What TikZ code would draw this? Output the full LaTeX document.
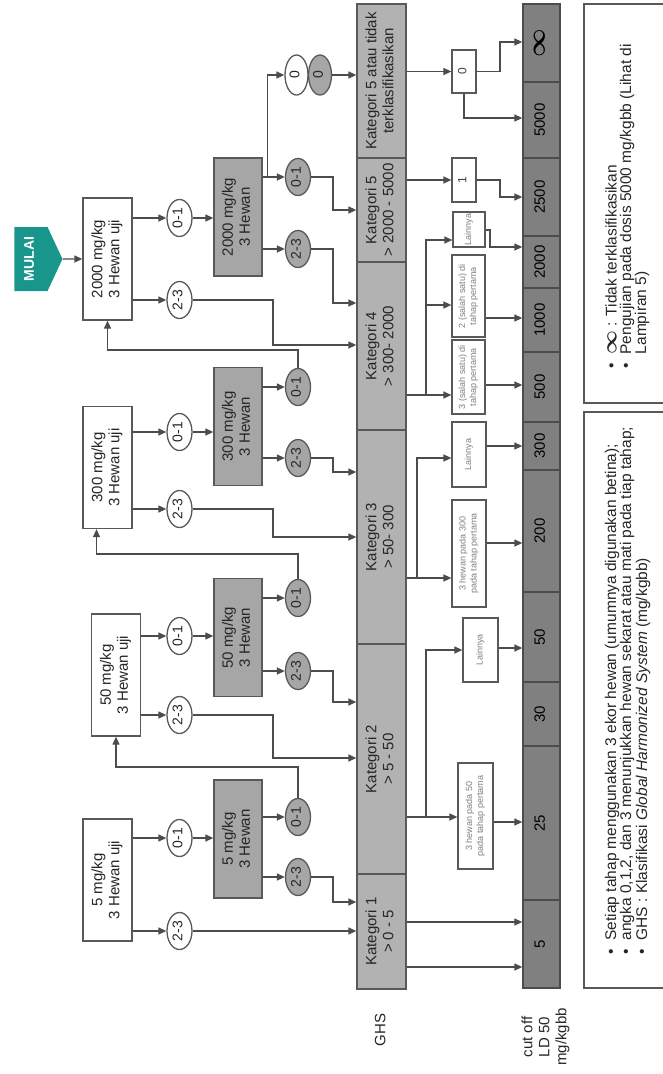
\documentclass[tikz,border=0pt]{standalone}
\usepackage{fontspec}
\setmainfont{Liberation Sans}
\usepackage{bm}
\usepackage{graphicx}
\usetikzlibrary{arrows.meta,shapes.geometric,shapes.symbols}

\definecolor{tosca}{RGB}{24,150,140}
\newcommand\rot[1]{\rotatebox{90}{\begin{tabular}{@{}c@{}}#1\end{tabular}}}
\newcommand\tandainf[1]{{\fontsize{#1}{#1}\selectfont$\bm{\infty}$}}

\begin{document}
\begin{tikzpicture}[x=1pt, y=-1pt, font=\fontsize{15}{17}\selectfont,
  every node/.style={text=black!85},
  arr/.style={draw=black!70, line width=1.3pt, -{Triangle[length=8pt,width=7pt]}},
  dosis/.style={draw=black!65, line width=1.3pt, fill=white, inner sep=0pt, minimum width=49pt, minimum height=122pt},
  uji/.style={dosis, fill=black!35, minimum width=48pt, minimum height=118pt},
  hasil/.style={ellipse, draw=black!65, line width=1.3pt, fill=white, inner sep=0pt, minimum width=25pt, minimum height=37pt, font=\fontsize{14}{14}\selectfont},
  hasilg/.style={hasil, fill=black!35},
  ghs/.style={draw=black!65, line width=1.3pt, fill=black!30, inner sep=0pt, minimum width=49pt},
  ld/.style={draw=black!70, line width=1.3pt, fill=black!50, inner sep=0pt, minimum width=37pt, text=black},
  kotak/.style={draw=black!65, line width=1.2pt, fill=white, inner sep=0pt, font=\fontsize{9}{11}\selectfont, text=black!50},
  ket/.style={inner sep=0pt, anchor=south, font=\fontsize{15.5}{15.5}\selectfont}]
  \useasboundingbox (0,0) rectangle (662,1074);
  \def\sa{333}
  \def\sb{273}

  \node[signal, signal to=east, signal pointer angle=130, fill=tosca, inner sep=0pt, minimum width=48pt, minimum height=64pt,
    text=white, font=\bfseries\fontsize{14}{14}\selectfont] (mulai) at (31,259) {\rot{MULAI}};

  \foreach \nm/\px/\py/\qy/\pa/\pb/\qa/\qb in {
    2000/107.5/259/217/218/300/177/249, 300/107.5/467.5/426.5/432/509/387/458,
    50/116/675/637.5/636/715/598/671, 5/107.5/880/839/838/931/817/877}
  {
    \node[dosis] (p\nm) at (\px,\py) {\rot{\nm{} mg/kg\\3 Hewan uji}};
    \node[uji] (q\nm) at (238,\qy) {\rot{\nm{} mg/kg\\3 Hewan}};
    \node[hasil] (p\nm-a) at (179.5,\pa) {\rot{0-1}};
    \node[hasil] (p\nm-b) at (179.5,\pb) {\rot{2-3}};
    \node[hasilg] (q\nm-a) at (298,\qa) {\rot{0-1}};
    \node[hasilg] (q\nm-b) at (298,\qb) {\rot{2-3}};
    \draw[arr] (p\nm.east |- p\nm-a) -- (p\nm-a);
    \draw[arr] (p\nm.east |- p\nm-b) -- (p\nm-b);
    \draw[arr] (p\nm-a) -- (q\nm.west |- p\nm-a);
    \draw[arr] (q\nm.east |- q\nm-a) -- (q\nm-a);
    \draw[arr] (q\nm.east |- q\nm-b) -- (q\nm-b);
  }
  \node[hasil, minimum width=23pt, minimum height=40pt] (z0a) at (296.5,75) {\rot{0}};
  \node[hasilg, minimum width=23pt, minimum height=40pt] (z0b) at (320,75) {\rot{0}};

  \foreach \nm/\ya/\yb/\lb in {
    k5t/4/158/{Kategori 5 atau tidak\\terklasifikasikan}, k5/158/262/{Kategori 5\\> 2000 - 5000},
    k4/262/430/{Kategori 4\\> 300- 2000}, k3/430/644/{Kategori 3\\> 50- 300},
    k2/644/874/{Kategori 2\\> 5 - 50}, k1/874/989/{Kategori 1\\> 0 - 5}}
    \node[ghs, minimum height=\yb-\ya] (\nm) at (381.5,{(\ya+\yb)/2}) {\rot{\lb}};

  \foreach \nm/\ya/\yb/\lb in {
    inf/4/82/{\tandainf{24}}, 5000/82/158/5000, 2500/158/236/2500, 2000/236/288/2000,
    1000/288/352/1000, 500/352/422/500, 300/422/470/300, 200/470/592/200,
    50/592/682/50, 30/682/746/30, 25/746/900/25, 5/900/988/5}
    \node[ld, minimum height=\yb-\ya] (ld\nm) at (541.5,{(\ya+\yb)/2}) {\rot{\lb}};

  \node[kotak, minimum width=24pt, minimum height=43pt, font=\fontsize{12}{12}\selectfont, text=black!75] (r0) at (464,71.5) {\rot{0}};
  \node[kotak, minimum width=24pt, minimum height=44pt, font=\fontsize{12}{12}\selectfont, text=black!75] (r1) at (464,180) {\rot{1}};
  \node[kotak, minimum width=32pt, minimum height=35pt] (r4c) at (469,229.5) {\rot{Lainnya}};
  \node[kotak, minimum width=33pt, minimum height=82pt] (r4b) at (468.5,296) {\rot{2 (salah satu) di\\tahap pertama}};
  \node[kotak, minimum width=33pt, minimum height=74pt] (r4a) at (468.5,377) {\rot{3 (salah satu) di\\tahap pertama}};
  \node[kotak, minimum width=34pt, minimum height=65pt] (r3b) at (469,454.5) {\rot{Lainnya}};
  \node[kotak, minimum width=34pt, minimum height=107pt] (r3a) at (469,553.5) {\rot{3 hewan pada 300\\pada tahap pertama}};
  \node[kotak, minimum width=35pt, minimum height=64pt] (r2b) at (480.5,650) {\rot{Lainnya}};
  \node[kotak, minimum width=35pt, minimum height=106pt] (r2a) at (475.5,816) {\rot{3 hewan pada 50\\pada tahap pertama}};

  \node (lghs) at (382,1030) {\rot{GHS}};
  \node (lld) at (546,1037) {\rot{cut off\\LD 50\\mg/kgbb}};

  \node[draw=black!65, line width=1.3pt, minimum width=84pt, minimum height=399pt, inner sep=0pt] (leg1) at (626,203.5) {};
  \node[draw=black!65, line width=1.3pt, minimum width=84pt, minimum height=576pt, inner sep=0pt] (leg2) at (626,700) {};
  \node[ket] (ket1a) at (611,369) {\rotatebox{90}{\textbullet\hspace{9pt}\tandainf{20} : Tidak terklasifikasikan}};
  \node[ket] (ket1b) at (627,369) {\rotatebox{90}{\textbullet\hspace{9pt}Pengujian pada dosis 5000 mg/kgbb (Lihat di}};
  \node[ket] (ket1c) at (642,354.4) {\rotatebox{90}{Lampiran 5)}};
  \node[ket] (ket2a) at (612,955) {\rotatebox{90}{\textbullet\hspace{9pt}Setiap tahap menggunakan 3 ekor hewan (umumnya digunakan betina);}};
  \node[ket] (ket2b) at (627,955) {\rotatebox{90}{\textbullet\hspace{9pt}angka 0,1,2, dan 3 menunjukkan hewan sekarat atau mati pada tiap tahap;}};
  \node[ket] (ket2c) at (643,955) {\rotatebox{90}{\textbullet\hspace{9pt}GHS : Klasifikasi \textit{Global Harmonized System} (mg/kgbb)}};

  \draw[arr] (mulai) -- (p2000);
  \coordinate (j0) at ([xshift=5pt]q2000.east |- q2000-a);
  \draw[arr] (j0) |- (z0a);
  \draw[arr] (z0b) -- (k5t.west |- z0b);
  \draw[arr] (q2000-a) -| (\sa,210) -- (k5.west |- 0,210);
  \draw[arr] (q2000-b) -| (\sa,303) -- (k4.west |- 0,303);
  \draw[arr] (p2000-b) -| (\sb,345) -- (k4.west |- 0,345);
  \draw[arr] (q300-a) -- (298,350) -| (p2000);
  \draw[arr] (q300-b) -| (\sa,472) -- (k3.west |- 0,472);
  \draw[arr] (p300-b) -| (\sb,537) -- (k3.west |- 0,537);
  \draw[arr] (q50-a) -- (298,554) -| ([xshift=-11pt]p300.south);
  \draw[arr] (q50-b) -| (\sa,702) -- (k2.west |- 0,702);
  \draw[arr] (p50-b) -| (\sb,758) -- (k2.west |- 0,758);
  \draw[arr] (q5-a) -- (298,767) -| (p50);
  \draw[arr] (q5-b) -| (\sa,902) -- (k1.west |- 0,902);
  \draw[arr] (p5-b) -- (k1.west |- p5-b);

  \draw[arr] (k5t.east |- r0) -- (r0);
  \draw[arr] (r0) -| (500,42) -- (ldinf.west |- 0,42);
  \draw[arr] (r0) |- (ld5000.west |- 0,118);
  \draw[arr] (k5.east |- r1) -- (r1);
  \draw[arr] (r1) -| (500,197) -- (ld2500.west |- 0,197);
  \coordinate (j4) at (426,395);
  \draw[arr] (k4.east |- j4) -- (r4a.west |- j4);
  \draw[arr] (j4) |- (r4c.west |- 0,240);
  \draw[arr] (j4 |- 0,305) -- (r4b.west |- 0,305);
  \draw[arr] (r4c.east |- 0,230) -| (490,247) -- (ld2000.west |- 0,247);
  \draw[arr] (r4b.east |- 0,318) -- (ld1000.west |- 0,318);
  \draw[arr] (r4a.east |- 0,385) -- (ld500.west |- 0,385);
  \coordinate (j3) at (417,578);
  \draw[arr] (k3.east |- j3) -- (r3a.west |- j3);
  \draw[arr] (j3) |- (r3b.west |- 0,458);
  \draw[arr] (r3b.east |- 0,446) -- (ld300.west |- 0,446);
  \draw[arr] (r3a.east |- 0,543) -- (ld200.west |- 0,543);
  \coordinate (j2) at (426,817);
  \draw[arr] (k2.east |- j2) -- (r2a.west |- j2);
  \draw[arr] (j2) |- (r2b.west |- 0,650);
  \draw[arr] (r2b.east |- 0,648) -- (ld50.west |- 0,648);
  \draw[arr] (r2a.east |- 0,822) -- (ld25.west |- 0,822);
  \draw[arr] (k1.east |- 0,922) -- (ld5.west |- 0,922);
  \draw[arr] (k1.east |- 0,967) -- (ld5.west |- 0,967);
\end{tikzpicture}
\end{document}
